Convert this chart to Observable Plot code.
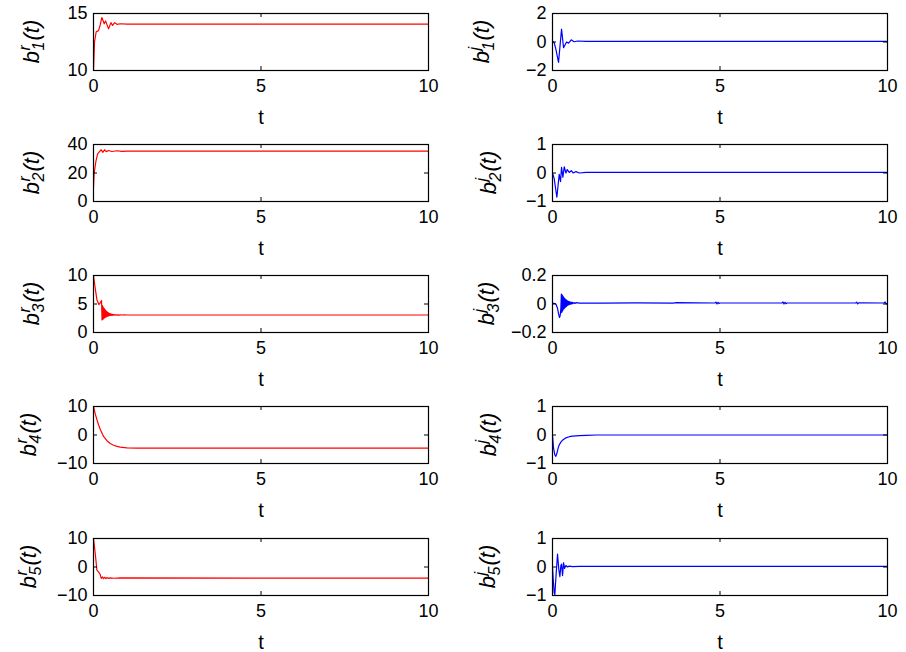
<!DOCTYPE html>
<html><head><meta charset="utf-8">
<script src="https://cdn.jsdelivr.net/npm/d3@7"></script>
<script src="https://cdn.jsdelivr.net/npm/@observablehq/plot@0.6"></script>
<style>
html,body{margin:0;padding:0;background:#fff;}
#chart{position:relative;width:906px;height:652px;overflow:hidden;background:#fff;}
#chart svg{position:absolute;}
</style></head><body><div id="chart"></div>
<script>
// ---------- data ----------
const xTicks = [0, 5, 10];

const t1r = [0, 0.03, 0.08, 0.15, 0.2, 0.25, 0.32, 0.36, 0.45, 0.52, 0.57, 0.63, 0.7, 0.8, 1.0, 10];
const b1r = [10, 12.5, 13.4, 13.5, 14.0, 14.65, 14.1, 14.35, 13.65, 14.2, 13.95, 14.2, 14.05, 14.1, 14.07, 14.07];

const t1i = [0, 0.05, 0.1, 0.18, 0.27, 0.33, 0.42, 0.48, 0.56, 0.64, 0.75, 1.0, 10];
const b1i = [0.05, -0.05, -0.5, -1.43, 0.91, -0.4, 0.0, -0.08, 0.15, 0.02, 0.07, 0.05, 0.05];

const t2r = [0, 0.02, 0.07, 0.12, 0.18, 0.23, 0.28, 0.33, 0.38, 0.45, 0.55, 0.7, 0.85, 1.0, 10];
const b2r = [10, 20, 28, 33.3, 35, 36.3, 34.5, 36.3, 35.0, 35.8, 35.1, 35.6, 35.2, 35.3, 35.3];

const t2i = [0, 0.05, 0.13, 0.2, 0.24, 0.27, 0.31, 0.35, 0.4, 0.44, 0.5, 0.56, 0.62, 0.7, 0.8, 1.0, 10];
const b2i = [0, -0.2, -0.85, -0.05, -0.3, 0.2, -0.15, 0.22, 0.0, 0.12, 0.02, 0.08, 0.0, 0.05, 0.0, 0.02, 0.02];

const t3r = [0, 0.05, 0.1, 0.16, 0.2, 0.24,
  0.255, 0.265, 0.275, 0.285, 0.295, 0.305, 0.315, 0.325, 0.335, 0.345, 0.355, 0.365, 0.375,
  0.385, 0.395, 0.405, 0.415, 0.425, 0.435, 0.445, 0.455, 0.465, 0.475, 0.485, 0.495,
  0.51, 0.525, 0.54, 0.555, 0.57, 0.585, 0.6,
  0.62, 0.64, 0.66, 0.68, 0.7,
  0.73, 0.76, 0.8, 0.85, 0.9, 1.0, 10];
const b3r = [10, 7.8, 5.8, 4.9, 5.2, 5.6,
  2.2, 4.7, 2.3, 4.5, 2.4, 4.3, 2.5, 4.15, 2.6, 4.0, 2.68, 3.85, 2.75,
  3.72, 2.8, 3.62, 2.85, 3.52, 2.9, 3.45, 2.93, 3.38, 2.96, 3.32, 2.98,
  3.27, 3.0, 3.22, 3.01, 3.18, 3.03, 3.15,
  3.04, 3.13, 3.05, 3.11, 3.06,
  3.1, 3.06, 3.09, 3.07, 3.08, 3.07, 3.07];

const t3i = [0, 0.05, 0.1, 0.15, 0.18, 0.21, 0.23, 0.25,
  0.265, 0.275, 0.285, 0.295, 0.305, 0.315, 0.325, 0.335, 0.345, 0.355, 0.365, 0.375,
  0.385, 0.395, 0.405, 0.415, 0.425, 0.435,
  0.45, 0.465, 0.48, 0.495, 0.51,
  0.53, 0.55, 0.57, 0.59, 0.61,
  0.64, 0.67, 0.7, 0.8, 1.0,
  1.5, 2.5, 3.6, 3.7, 4.85, 4.88, 4.91, 4.94, 4.97, 5.0, 6.0,
  6.85, 6.88, 6.91, 6.94, 6.97, 7.0, 8.0, 9.05, 9.08, 9.11, 9.14, 9.9, 9.93, 9.96, 10];
const b3i = [0.005, 0.005, 0.0, -0.03, -0.07, -0.095, -0.08, -0.03,
  0.07, -0.06, 0.065, -0.05, 0.058, -0.042, 0.05, -0.035, 0.044, -0.03, 0.038, -0.025,
  0.033, -0.02, 0.029, -0.016, 0.025, -0.012,
  0.022, -0.008, 0.019, -0.005, 0.016,
  -0.002, 0.014, 0.0, 0.012, 0.002,
  0.01, 0.004, 0.009, 0.006, 0.007,
  0.006, 0.008, 0.006, 0.009, 0.007, 0.013, 0.001, 0.012, 0.003, 0.007, 0.007,
  0.007, 0.014, 0.0, 0.012, 0.002, 0.007, 0.007, 0.007, 0.013, 0.001, 0.008, 0.007, 0.014, 0.0, 0.007];

const t4r = [0, 0.05, 0.1, 0.15, 0.2, 0.3, 0.4, 0.5, 0.6, 0.7, 0.8, 1.0, 1.3, 2, 10];
const b4r = [10, 7.5, 5.5, 3.6, 2.0, -0.5, -2.0, -3.0, -3.6, -4.0, -4.25, -4.5, -4.6, -4.6, -4.6];

const t4i = [0, 0.03, 0.07, 0.1, 0.13, 0.17, 0.2, 0.25, 0.3, 0.4, 0.5, 0.6, 0.8, 1.0, 1.3, 10];
const b4i = [0, -0.45, -0.7, -0.75, -0.65, -0.45, -0.35, -0.25, -0.18, -0.1, -0.06, -0.04, -0.02, -0.01, 0.0, 0.0];

const t5r = [0, 0.03, 0.05, 0.08, 0.1, 0.13, 0.15, 0.18, 0.2, 0.23, 0.27, 0.3, 0.33, 0.37, 0.4, 0.45, 0.5, 0.6, 0.8, 10];
const b5r = [10, 7, 4.9, 1.5, -1.0, -1.5, -1.7, -2.3, -2.6, -4.0, -3.5, -4.1, -3.6, -4.1, -3.7, -4.0, -3.8, -3.95, -3.85, -3.9];

const t5i = [0, 0.02, 0.05, 0.07, 0.1, 0.15, 0.19, 0.22, 0.25, 0.27, 0.3, 0.33, 0.36, 0.4, 0.45, 0.5, 0.6, 0.8, 10];
const b5i = [0.0, -0.4, -0.9, -0.97, -0.4, 0.45, -0.1, -0.34, 0.05, 0.1, -0.3, 0.15, -0.05, 0.05, 0.0, 0.03, 0.01, 0.02, 0.02];

const yTicks1r = [10, 15],      yDom1r = [10, 15];
const yTicks1i = [-2, 0, 2],    yDom1i = [-2, 2];
const yTicks2r = [0, 20, 40],   yDom2r = [0, 40];
const yTicks2i = [-1, 0, 1],    yDom2i = [-1, 1];
const yTicks3r = [0, 5, 10],    yDom3r = [0, 10];
const yTicks3i = [-0.2, 0, 0.2],yDom3i = [-0.2, 0.2];
const yTicks4r = [-10, 0, 10],  yDom4r = [-10, 10];
const yTicks4i = [-1, 0, 1],    yDom4i = [-1, 1];
const yTicks5r = [-10, 0, 10],  yDom5r = [-10, 10];
const yTicks5i = [-1, 0, 1],    yDom5i = [-1, 1];

const panels = [
  {t: t1r, v: b1r, ticks: yTicks1r, dom: yDom1r, sup: "r", sub: "1", row: 0, col: 0},
  {t: t1i, v: b1i, ticks: yTicks1i, dom: yDom1i, sup: "j", sub: "1", row: 0, col: 1},
  {t: t2r, v: b2r, ticks: yTicks2r, dom: yDom2r, sup: "r", sub: "2", row: 1, col: 0},
  {t: t2i, v: b2i, ticks: yTicks2i, dom: yDom2i, sup: "j", sub: "2", row: 1, col: 1},
  {t: t3r, v: b3r, ticks: yTicks3r, dom: yDom3r, sup: "r", sub: "3", row: 2, col: 0},
  {t: t3i, v: b3i, ticks: yTicks3i, dom: yDom3i, sup: "j", sub: "3", row: 2, col: 1},
  {t: t4r, v: b4r, ticks: yTicks4r, dom: yDom4r, sup: "r", sub: "4", row: 3, col: 0},
  {t: t4i, v: b4i, ticks: yTicks4i, dom: yDom4i, sup: "j", sub: "4", row: 3, col: 1},
  {t: t5r, v: b5r, ticks: yTicks5r, dom: yDom5r, sup: "r", sub: "5", row: 4, col: 0},
  {t: t5i, v: b5i, ticks: yTicks5i, dom: yDom5i, sup: "j", sub: "5", row: 4, col: 1}
];

// ---------- layout ----------
const colors = ["#ff0000", "#0000ff"];
const rowTops = [13, 144, 275, 406, 538];
const labelX = [[32, 482], [32, 489], [32, 487], [29, 489], [29, 488]];
const W = 453, H = 131, MT = 10, MB = 64;
const FONT = "'Liberation Sans', Arial, Helvetica, sans-serif";
const fmt = d => d < 0 ? "\u2212" + String(-d) : String(d);

const root = document.getElementById("chart");
panels.forEach(p => {
  const ml = p.col === 0 ? 93 : 99, mr = p.col === 0 ? 25 : 19;
  const iw = W - ml - mr, ih = H - MT - MB;
  const data = p.t.map((t, i) => ({t, v: p.v[i]}));
  const svgEl = Plot.plot({
    width: W, height: H,
    marginTop: MT, marginBottom: MB, marginLeft: ml, marginRight: mr,
    style: {fontFamily: FONT, fontSize: "18px", color: "black", background: "transparent", overflow: "visible"},
    x: {domain: [0, 10], ticks: xTicks, tickSize: 0, tickPadding: 9, tickFormat: fmt, label: null},
    y: {domain: p.dom, ticks: p.ticks, tickSize: 0, tickPadding: 6, tickFormat: fmt, label: null},
    marks: [
      Plot.line(data, {x: "t", y: "v", stroke: colors[p.col], strokeWidth: 1.2, clip: true}),
      Plot.tickX(xTicks, {x: d => d, insetTop: ih - 4, stroke: "black"}),
      Plot.tickX(xTicks, {x: d => d, insetBottom: ih - 4, stroke: "black"}),
      Plot.tickY(p.ticks, {y: d => d, insetRight: iw - 4, stroke: "black"}),
      Plot.tickY(p.ticks, {y: d => d, insetLeft: iw - 4, stroke: "black"}),
      Plot.frame({stroke: "black", strokeWidth: 1.2}),
      Plot.text(["t"], {frameAnchor: "bottom", dy: 47, fontSize: 20, lineAnchor: "middle", fill: "black"})
    ]
  });
  svgEl.style.left = (p.col * W) + "px";
  svgEl.style.top = (rowTops[p.row] - MT) + "px";
  root.appendChild(svgEl);

  // y label with stacked super/subscript
  const svg = d3.select(svgEl);
  const lx = labelX[p.row][p.col] - p.col * W;
  const cy = MT + ih / 2;
  const supW = p.sup === "r" ? 5.3 : 3.5;
  const txt = svg.append("text")
    .attr("transform", `translate(${lx + 7},${cy}) rotate(-90)`)
    .attr("text-anchor", "middle")
    .attr("font-family", FONT)
    .attr("font-style", "italic")
    .attr("font-size", 22)
    .attr("fill", "black");
  txt.append("tspan").text("b");
  txt.append("tspan").attr("font-size", 16).attr("dy", -9).attr("dx", 0.5).text(p.sup);
  txt.append("tspan").attr("font-size", 16).attr("dx", -supW).attr("dy", 14).text(p.sub);
  txt.append("tspan").attr("dy", -5).attr("dx", 1).text("(t)");
});
</script>
</body></html>
